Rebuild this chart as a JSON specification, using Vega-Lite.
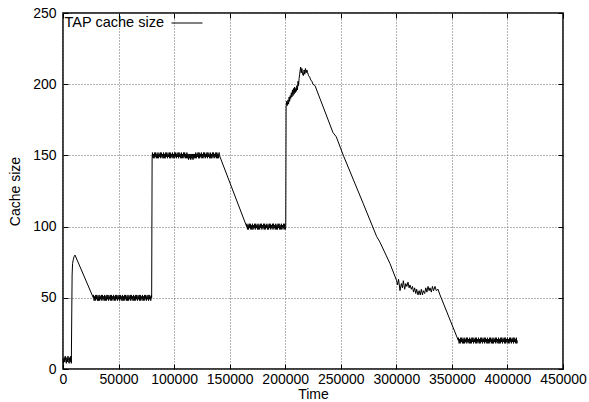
{
  "$schema": "https://vega.github.io/schema/vega-lite/v6.json",
  "width": 500,
  "height": 356,
  "autosize": {"type": "none"},
  "padding": {"left": 63, "top": 13, "right": 26, "bottom": 33},
  "background": "white",
  "config": {
    "view": {"stroke": "black", "strokeWidth": 1.5},
    "font": "Liberation Sans",
    "axis": {
      "labelFont": "Liberation Sans",
      "labelFontSize": 14,
      "labelColor": "black",
      "titleFont": "Liberation Sans",
      "titleFontSize": 14,
      "titleFontWeight": "normal",
      "titleColor": "black",
      "domain": false,
      "tickColor": "black",
      "tickSize": -5,
      "tickWidth": 1,
      "gridColor": "#666666",
      "gridDash": [1, 2],
      "gridOpacity": 1,
      "gridWidth": 1
    }
  },
  "data": {
    "values": [
      {"t":0,"c":7},{"t":500,"c":4},{"t":1000,"c":8},{"t":1500,"c":5},{"t":2000,"c":9},{"t":2500,"c":6},{"t":3000,"c":4},{"t":3500,"c":8},{"t":4000,"c":5},{"t":4500,"c":9},{"t":5000,"c":6},{"t":5500,"c":4},{"t":6000,"c":8},{"t":6500,"c":5},{"t":7000,"c":9},{"t":7500,"c":4},
      {"t":7900,"c":40},{"t":8200,"c":66},{"t":8600,"c":74},{"t":9300,"c":77},{"t":10000,"c":79},{"t":10800,"c":80},
      {"t":27300,"c":50},
      {"t":27500,"c":52},{"t":28000,"c":48},{"t":28500,"c":51},{"t":29000,"c":48},{"t":29500,"c":52},{"t":30000,"c":49},{"t":30500,"c":52},{"t":31000,"c":48},{"t":31500,"c":51},{"t":32000,"c":48},
      {"t":32500,"c":52},{"t":33000,"c":48},{"t":33500,"c":51},{"t":34000,"c":49},{"t":34500,"c":52},{"t":35000,"c":48},{"t":35500,"c":52},{"t":36000,"c":49},{"t":36500,"c":51},{"t":37000,"c":48},
      {"t":37500,"c":52},{"t":38000,"c":48},{"t":38500,"c":51},{"t":39000,"c":48},{"t":39500,"c":52},{"t":40000,"c":49},{"t":40500,"c":52},{"t":41000,"c":48},{"t":41500,"c":51},{"t":42000,"c":49},
      {"t":42500,"c":52},{"t":43000,"c":48},{"t":43500,"c":52},{"t":44000,"c":48},{"t":44500,"c":51},{"t":45000,"c":49},{"t":45500,"c":52},{"t":46000,"c":48},{"t":46500,"c":51},{"t":47000,"c":48},
      {"t":47500,"c":52},{"t":48000,"c":49},{"t":48500,"c":52},{"t":49000,"c":48},{"t":49500,"c":51},{"t":50000,"c":49},{"t":50500,"c":52},{"t":51000,"c":48},{"t":51500,"c":52},{"t":52000,"c":49},
      {"t":52500,"c":51},{"t":53000,"c":48},{"t":53500,"c":52},{"t":54000,"c":48},{"t":54500,"c":51},{"t":55000,"c":48},{"t":55500,"c":52},{"t":56000,"c":49},{"t":56500,"c":52},{"t":57000,"c":48},
      {"t":57500,"c":51},{"t":58000,"c":48},{"t":58500,"c":52},{"t":59000,"c":48},{"t":59500,"c":51},{"t":60000,"c":49},{"t":60500,"c":52},{"t":61000,"c":48},{"t":61500,"c":52},{"t":62000,"c":49},
      {"t":62500,"c":51},{"t":63000,"c":48},{"t":63500,"c":52},{"t":64000,"c":48},{"t":64500,"c":51},{"t":65000,"c":48},{"t":65500,"c":52},{"t":66000,"c":49},{"t":66500,"c":52},{"t":67000,"c":48},
      {"t":67500,"c":51},{"t":68000,"c":49},{"t":68500,"c":52},{"t":69000,"c":48},{"t":69500,"c":52},{"t":70000,"c":48},{"t":70500,"c":51},{"t":71000,"c":49},{"t":71500,"c":52},{"t":72000,"c":48},
      {"t":72500,"c":51},{"t":73000,"c":48},{"t":73500,"c":52},{"t":74000,"c":49},{"t":74500,"c":52},{"t":75000,"c":48},{"t":75500,"c":51},{"t":76000,"c":49},{"t":76500,"c":52},{"t":77000,"c":48},
      {"t":77500,"c":52},{"t":78000,"c":49},{"t":78500,"c":51},{"t":79000,"c":48},{"t":79500,"c":52},{"t":79800,"c":50},
      {"t":80200,"c":148},
      {"t":80500,"c":152},{"t":81000,"c":148},{"t":81500,"c":151},{"t":82000,"c":148},{"t":82500,"c":152},{"t":83000,"c":149},{"t":83500,"c":152},{"t":84000,"c":148},{"t":84500,"c":151},{"t":85000,"c":148},
      {"t":85500,"c":152},{"t":86000,"c":148},{"t":86500,"c":151},{"t":87000,"c":149},{"t":87500,"c":152},{"t":88000,"c":148},{"t":88500,"c":152},{"t":89000,"c":149},{"t":89500,"c":151},{"t":90000,"c":148},
      {"t":90500,"c":152},{"t":91000,"c":148},{"t":91500,"c":151},{"t":92000,"c":148},{"t":92500,"c":152},{"t":93000,"c":149},{"t":93500,"c":152},{"t":94000,"c":148},{"t":94500,"c":151},{"t":95000,"c":149},
      {"t":95500,"c":152},{"t":96000,"c":148},{"t":96500,"c":152},{"t":97000,"c":148},{"t":97500,"c":151},{"t":98000,"c":149},{"t":98500,"c":152},{"t":99000,"c":148},{"t":99500,"c":151},{"t":100000,"c":148},
      {"t":100500,"c":152},{"t":101000,"c":149},{"t":101500,"c":152},{"t":102000,"c":148},{"t":102500,"c":151},{"t":103000,"c":149},{"t":103500,"c":152},{"t":104000,"c":148},{"t":104500,"c":152},{"t":105000,"c":149},
      {"t":105500,"c":151},{"t":106000,"c":148},{"t":106500,"c":152},{"t":107000,"c":148},{"t":107500,"c":151},{"t":108000,"c":148},{"t":108500,"c":152},{"t":109000,"c":149},{"t":109500,"c":152},{"t":110000,"c":148},
      {"t":110500,"c":151},{"t":111000,"c":148},{"t":111500,"c":152},{"t":112000,"c":148},{"t":112500,"c":151},{"t":113000,"c":147},{"t":113500,"c":151},{"t":114000,"c":148},{"t":114500,"c":151},{"t":115000,"c":147},
      {"t":115500,"c":151},{"t":116000,"c":148},{"t":116500,"c":151},{"t":117000,"c":147},{"t":117500,"c":151},{"t":118000,"c":148},{"t":118500,"c":151},{"t":119000,"c":148},{"t":119500,"c":152},{"t":120000,"c":148},
      {"t":120500,"c":151},{"t":121000,"c":149},{"t":121500,"c":152},{"t":122000,"c":148},{"t":122500,"c":152},{"t":123000,"c":148},{"t":123500,"c":151},{"t":124000,"c":149},{"t":124500,"c":152},{"t":125000,"c":148},
      {"t":125500,"c":151},{"t":126000,"c":148},{"t":126500,"c":152},{"t":127000,"c":149},{"t":127500,"c":152},{"t":128000,"c":148},{"t":128500,"c":151},{"t":129000,"c":149},{"t":129500,"c":152},{"t":130000,"c":148},
      {"t":130500,"c":152},{"t":131000,"c":149},{"t":131500,"c":151},{"t":132000,"c":148},{"t":132500,"c":152},{"t":133000,"c":148},{"t":133500,"c":151},{"t":134000,"c":148},{"t":134500,"c":152},{"t":135000,"c":149},
      {"t":135500,"c":152},{"t":136000,"c":148},{"t":136500,"c":151},{"t":137000,"c":149},{"t":137500,"c":152},{"t":138000,"c":148},{"t":138500,"c":152},{"t":139000,"c":148},{"t":139500,"c":151},{"t":140000,"c":148},{"t":140500,"c":152},{"t":140800,"c":150},
      {"t":165300,"c":100},
      {"t":165500,"c":102},{"t":166000,"c":98},{"t":166500,"c":101},{"t":167000,"c":98},{"t":167500,"c":102},{"t":168000,"c":99},{"t":168500,"c":102},{"t":169000,"c":98},{"t":169500,"c":101},{"t":170000,"c":98},
      {"t":170500,"c":102},{"t":171000,"c":98},{"t":171500,"c":101},{"t":172000,"c":99},{"t":172500,"c":102},{"t":173000,"c":98},{"t":173500,"c":102},{"t":174000,"c":99},{"t":174500,"c":101},{"t":175000,"c":98},
      {"t":175500,"c":102},{"t":176000,"c":98},{"t":176500,"c":101},{"t":177000,"c":98},{"t":177500,"c":102},{"t":178000,"c":99},{"t":178500,"c":102},{"t":179000,"c":98},{"t":179500,"c":101},{"t":180000,"c":99},
      {"t":180500,"c":102},{"t":181000,"c":98},{"t":181500,"c":102},{"t":182000,"c":98},{"t":182500,"c":101},{"t":183000,"c":99},{"t":183500,"c":102},{"t":184000,"c":98},{"t":184500,"c":101},{"t":185000,"c":98},
      {"t":185500,"c":102},{"t":186000,"c":99},{"t":186500,"c":102},{"t":187000,"c":98},{"t":187500,"c":101},{"t":188000,"c":99},{"t":188500,"c":102},{"t":189000,"c":98},{"t":189500,"c":102},{"t":190000,"c":99},
      {"t":190500,"c":101},{"t":191000,"c":98},{"t":191500,"c":102},{"t":192000,"c":98},{"t":192500,"c":101},{"t":193000,"c":98},{"t":193500,"c":102},{"t":194000,"c":99},{"t":194500,"c":102},{"t":195000,"c":98},
      {"t":195500,"c":101},{"t":196000,"c":98},{"t":196500,"c":102},{"t":197000,"c":98},{"t":197500,"c":101},{"t":198000,"c":99},{"t":198500,"c":102},{"t":199000,"c":98},{"t":199500,"c":102},{"t":200000,"c":98},{"t":200500,"c":100},
      {"t":200800,"c":184},{"t":201300,"c":188},{"t":201800,"c":185},{"t":202500,"c":189},{"t":203000,"c":186},{"t":203500,"c":191},{"t":204000,"c":188},{"t":204500,"c":192},{"t":205000,"c":190},{"t":205500,"c":194},{"t":206000,"c":191},{"t":206500,"c":196},{"t":207000,"c":192},{"t":207500,"c":197},{"t":208000,"c":193},{"t":208500,"c":198},{"t":209000,"c":194},{"t":209500,"c":197},{"t":210000,"c":195},{"t":210500,"c":199},{"t":211000,"c":196},{"t":211500,"c":202},{"t":212000,"c":199},{"t":212500,"c":204},{"t":213000,"c":207},{"t":213500,"c":210},{"t":213900,"c":212},{"t":214400,"c":208},{"t":215000,"c":211},{"t":215600,"c":207},{"t":216300,"c":206},{"t":217000,"c":210},{"t":217600,"c":207},{"t":218200,"c":211},{"t":218800,"c":208},{"t":219500,"c":210},{"t":220200,"c":208},{"t":221000,"c":206},{"t":222000,"c":205},{"t":223000,"c":203},{"t":224000,"c":202},{"t":225000,"c":200},{"t":226800,"c":199},
      {"t":243000,"c":166},{"t":246000,"c":163},{"t":252300,"c":150},{"t":270300,"c":116},{"t":282300,"c":93},{"t":285300,"c":89},{"t":294300,"c":74},{"t":300300,"c":62},
      {"t":301000,"c":59},{"t":302000,"c":63},{"t":303300,"c":55},{"t":304500,"c":60},{"t":305500,"c":57},{"t":306300,"c":62},{"t":307500,"c":56},{"t":308500,"c":60},{"t":309500,"c":58},{"t":310500,"c":61},{"t":311500,"c":57},{"t":312300,"c":59},{"t":313500,"c":56},{"t":314500,"c":58},{"t":315500,"c":54},{"t":316500,"c":57},{"t":317500,"c":53},{"t":318300,"c":56},{"t":319500,"c":52},{"t":320500,"c":55},{"t":321500,"c":52},{"t":322500,"c":56},{"t":323500,"c":52},{"t":324300,"c":55},{"t":325500,"c":53},{"t":326500,"c":57},{"t":327500,"c":54},{"t":328500,"c":58},{"t":329500,"c":55},{"t":330300,"c":57},{"t":331500,"c":54},{"t":332500,"c":58},{"t":333500,"c":55},{"t":334800,"c":58},{"t":336000,"c":55},{"t":337500,"c":56},{"t":339300,"c":52},
      {"t":355800,"c":20},
      {"t":356000,"c":22},{"t":356500,"c":18},{"t":357000,"c":21},{"t":357500,"c":18},{"t":358000,"c":22},{"t":358500,"c":19},{"t":359000,"c":22},{"t":359500,"c":18},{"t":360000,"c":21},{"t":360500,"c":18},
      {"t":361000,"c":22},{"t":361500,"c":18},{"t":362000,"c":21},{"t":362500,"c":19},{"t":363000,"c":22},{"t":363500,"c":18},{"t":364000,"c":22},{"t":364500,"c":19},{"t":365000,"c":21},{"t":365500,"c":18},
      {"t":366000,"c":22},{"t":366500,"c":18},{"t":367000,"c":21},{"t":367500,"c":18},{"t":368000,"c":22},{"t":368500,"c":19},{"t":369000,"c":22},{"t":369500,"c":18},{"t":370000,"c":21},{"t":370500,"c":19},
      {"t":371000,"c":22},{"t":371500,"c":18},{"t":372000,"c":22},{"t":372500,"c":18},{"t":373000,"c":21},{"t":373500,"c":19},{"t":374000,"c":22},{"t":374500,"c":18},{"t":375000,"c":21},{"t":375500,"c":18},
      {"t":376000,"c":22},{"t":376500,"c":19},{"t":377000,"c":22},{"t":377500,"c":18},{"t":378000,"c":21},{"t":378500,"c":19},{"t":379000,"c":22},{"t":379500,"c":18},{"t":380000,"c":22},{"t":380500,"c":19},
      {"t":381000,"c":21},{"t":381500,"c":18},{"t":382000,"c":22},{"t":382500,"c":18},{"t":383000,"c":21},{"t":383500,"c":18},{"t":384000,"c":22},{"t":384500,"c":19},{"t":385000,"c":22},{"t":385500,"c":18},
      {"t":386000,"c":21},{"t":386500,"c":18},{"t":387000,"c":22},{"t":387500,"c":18},{"t":388000,"c":21},{"t":388500,"c":19},{"t":389000,"c":22},{"t":389500,"c":18},{"t":390000,"c":22},{"t":390500,"c":19},
      {"t":391000,"c":21},{"t":391500,"c":18},{"t":392000,"c":22},{"t":392500,"c":18},{"t":393000,"c":21},{"t":393500,"c":18},{"t":394000,"c":22},{"t":394500,"c":19},{"t":395000,"c":22},{"t":395500,"c":18},
      {"t":396000,"c":21},{"t":396500,"c":19},{"t":397000,"c":22},{"t":397500,"c":18},{"t":398000,"c":22},{"t":398500,"c":18},{"t":399000,"c":21},{"t":399500,"c":19},{"t":400000,"c":22},{"t":400500,"c":18},
      {"t":401000,"c":21},{"t":401500,"c":18},{"t":402000,"c":22},{"t":402500,"c":19},{"t":403000,"c":22},{"t":403500,"c":18},{"t":404000,"c":21},{"t":404500,"c":19},{"t":405000,"c":22},{"t":405500,"c":18},
      {"t":406000,"c":22},{"t":406500,"c":19},{"t":407000,"c":21},{"t":407500,"c":18},{"t":408000,"c":22},{"t":408500,"c":18},{"t":408900,"c":20}
    ]
  },
  "transform": [{"calculate": "'TAP cache size'", "as": "series"}],
  "layer": [
    {
      "mark": {"type": "line", "strokeWidth": 1, "interpolate": "linear"},
      "encoding": {
        "x": {
          "field": "t", "type": "quantitative", "title": "Time",
          "scale": {"domain": [0, 450000], "nice": false, "zero": false},
          "axis": {"orient": "bottom", "values": [0,50000,100000,150000,200000,250000,300000,350000,400000,450000], "format": "d", "labelPadding": 8, "titlePadding": 1, "labelFlush": false}
        },
        "y": {
          "field": "c", "type": "quantitative", "title": "Cache size",
          "scale": {"domain": [0, 250], "nice": false},
          "axis": {"orient": "left", "values": [0,50,100,150,200,250], "labelPadding": 12, "titlePadding": 10, "labelFlush": false}
        },
        "color": {
          "field": "series", "type": "nominal",
          "scale": {"range": ["black"]},
          "legend": {
            "title": null, "orient": "none", "legendX": 108, "legendY": -6,
            "symbolType": "stroke", "symbolSize": 961, "symbolStrokeWidth": 1, "symbolStrokeColor": "black",
            "labelFont": "Liberation Sans", "labelFontSize": 14.5, "labelColor": "black",
            "labelAlign": "right", "labelOffset": -39, "padding": 0
          }
        }
      }
    },
    {
      "mark": {"type": "line", "opacity": 0},
      "encoding": {
        "x": {
          "field": "t", "type": "quantitative",
          "scale": {"domain": [0, 450000], "nice": false, "zero": false},
          "axis": {"orient": "top", "values": [0,50000,100000,150000,200000,250000,300000,350000,400000,450000], "labels": false, "grid": false, "title": null}
        },
        "y": {
          "field": "c", "type": "quantitative",
          "scale": {"domain": [0, 250], "nice": false},
          "axis": {"orient": "right", "values": [0,50,100,150,200,250], "labels": false, "grid": false, "title": null}
        }
      }
    }
  ],
  "resolve": {"scale": {"x": "independent", "y": "independent"}}
}
